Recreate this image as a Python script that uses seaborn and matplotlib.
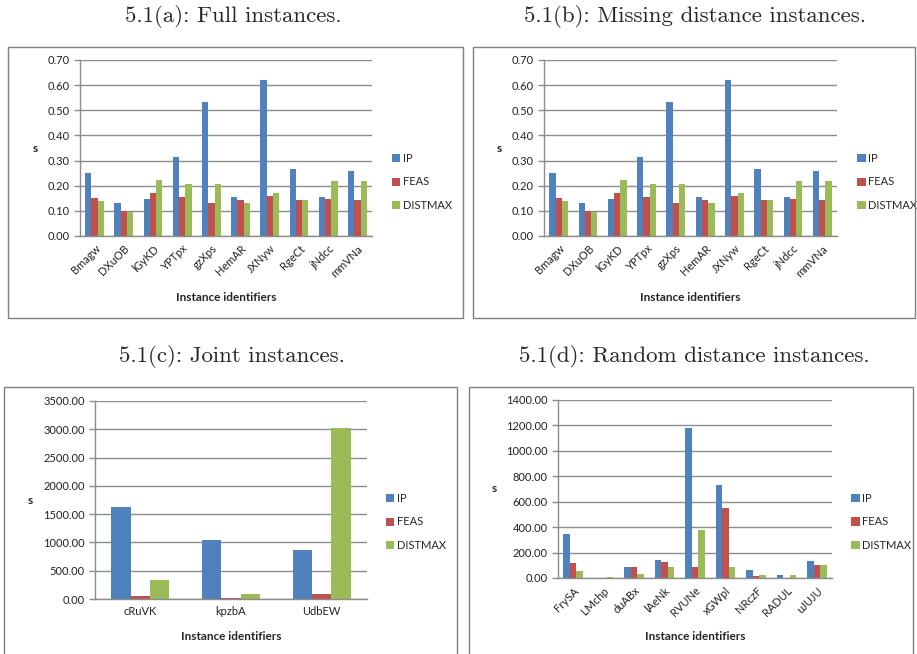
import numpy as np
import pandas as pd
import matplotlib
matplotlib.use('Agg')
from matplotlib import pyplot as plt
from matplotlib.patches import Rectangle
from matplotlib.ticker import FormatStrFormatter
import seaborn as sns

sns.set_style('white')
plt.rcParams['font.family'] = ['Lato', 'DejaVu Sans']

methods = ['IP', 'FEAS', 'DISTMAX']
colors = ['#4F81BD', '#C0504D', '#9BBB59']

# 5.1(a) full instances
full_ids = ['Bmagw', 'DXuOB', 'lGyKD', 'YPTpx', 'gzXps', 'HemAR', 'JXNyw', 'RgeCt', 'jNdcc', 'mmVNa']
full_ip = [0.250, 0.133, 0.148, 0.313, 0.533, 0.155, 0.620, 0.265, 0.155, 0.260]
full_feas = [0.152, 0.100, 0.170, 0.155, 0.133, 0.145, 0.160, 0.145, 0.148, 0.145]
full_dist = [0.140, 0.095, 0.223, 0.205, 0.205, 0.133, 0.170, 0.145, 0.220, 0.220]

# 5.1(b) missing distance instances
miss_ids = ['Bmagw', 'DXuOB', 'lGyKD', 'YPTpx', 'gzXps', 'HemAR', 'JXNyw', 'RgeCt', 'jNdcc', 'mmVNa']
miss_ip = [0.250, 0.133, 0.148, 0.313, 0.533, 0.155, 0.620, 0.265, 0.155, 0.260]
miss_feas = [0.152, 0.100, 0.170, 0.155, 0.133, 0.145, 0.160, 0.145, 0.148, 0.145]
miss_dist = [0.140, 0.095, 0.223, 0.205, 0.205, 0.133, 0.170, 0.145, 0.220, 0.220]

# 5.1(c) joint instances
joint_ids = ['cRuVK', 'kpzbA', 'UdbEW']
joint_ip = [1625, 1045, 865]
joint_feas = [50, 15, 85]
joint_dist = [335, 80, 3020]

# 5.1(d) random distance instances
rand_ids = ['FrySA', 'LMchp', 'duABx', 'lAeNk', 'RVUNe', 'xGWpl', 'NRczF', 'RADUL', 'uJUJU']
rand_ip = [345, 0, 85, 140, 1180, 735, 62, 25, 130]
rand_feas = [115, 0, 85, 122, 90, 550, 18, 0, 100]
rand_dist = [55, 8, 30, 85, 375, 90, 25, 25, 100]

W, H = 917, 654
fig = plt.figure(figsize=(W / 100, H / 100), dpi=100)


def px_axes(x0, y0, x1, y1):
    return fig.add_axes([x0 / W, 1 - y1 / H, (x1 - x0) / W, (y1 - y0) / H])


def panel(ax, ids, ip, feas, dist, ymax, step, rotate, leg_y, xlab_y, ylab_x):
    df = pd.DataFrame({'id': ids * 3,
                       'method': np.repeat(methods, len(ids)),
                       's': ip + feas + dist})
    sns.barplot(data=df, x='id', y='s', hue='method', hue_order=methods,
                palette=colors, width=0.64, gap=0, saturation=1, ax=ax,
                linewidth=0)
    n = len(ids)
    ax.set_xlim(-0.5, n - 0.5)
    ax.set_ylim(0, ymax)
    ax.set_yticks(np.arange(0, ymax + step / 2, step))
    ax.yaxis.set_major_formatter(FormatStrFormatter('%.2f'))
    ax.yaxis.grid(True, color='#8c8c8c', lw=1)
    ax.set_axisbelow(True)
    for s in ['top', 'right']:
        ax.spines[s].set_visible(False)
    for s in ['left', 'bottom']:
        ax.spines[s].set_color('#8c8c8c')
        ax.spines[s].set_linewidth(1)
    ax.set_xticks(range(n))
    ax.set_xticks(np.arange(-0.5, n), minor=True)
    ax.tick_params(axis='x', which='major', length=0, pad=5, labelsize=8, labelcolor='#222222')
    ax.tick_params(axis='x', which='minor', length=4, color='#8c8c8c', width=1)
    ax.tick_params(axis='y', length=4, color='#8c8c8c', width=1, labelsize=8,
                   labelcolor='#222222', left=True)
    if rotate:
        ax.set_xticklabels(ids, rotation=45, ha='right', rotation_mode='anchor')
    else:
        ax.set_xticklabels(ids)
    ax.set_xlabel('Instance identifiers', fontweight='bold', fontsize=8.5)
    ax.xaxis.set_label_coords(0.5, xlab_y)
    ax.xaxis.label.set_va('center')
    ax.set_ylabel('s', fontweight='bold', fontsize=8.5, rotation=0)
    ax.yaxis.set_label_coords(ylab_x, 0.5)
    ax.yaxis.label.set_va('center')
    ax.yaxis.label.set_ha('center')
    handles, labels = ax.get_legend_handles_labels()
    ax.legend(handles, labels, loc='center left', bbox_to_anchor=(1.05, leg_y),
              frameon=False, handlelength=0.75, handleheight=0.75,
              labelspacing=1.15, handletextpad=0.2, fontsize=8, borderpad=0)


ax_a = px_axes(80, 60, 372, 236)
panel(ax_a, full_ids, full_ip, full_feas, full_dist, 0.70, 0.10, True, 0.307, -0.347, -0.154)
ax_b = px_axes(544, 60, 837, 236)
panel(ax_b, miss_ids, miss_ip, miss_feas, miss_dist, 0.70, 0.10, True, 0.307, -0.347, -0.154)
ax_c = px_axes(95, 401, 367, 599)
panel(ax_c, joint_ids, joint_ip, joint_feas, joint_dist, 3500, 500, False, 0.389, -0.187, -0.239)
ax_d = px_axes(558, 400, 832, 578)
panel(ax_d, rand_ids, rand_ip, rand_feas, rand_dist, 1400, 200, True, 0.315, -0.326, -0.234)

# frames around each panel
for x0, y0, x1, y1 in [(8, 47, 463, 318), (473, 47, 915, 318),
                       (4, 387, 457, 660), (469, 387, 913, 660)]:
    fig.add_artist(Rectangle((x0 / W, 1 - y1 / H), (x1 - x0) / W, (y1 - y0) / H,
                             transform=fig.transFigure, fill=False,
                             ec='#7f7f7f', lw=1))

titles = [('5.1(a): Full instances.', 233, 16),
          ('5.1(b): Missing distance instances.', 695, 16),
          ('5.1(c): Joint instances.', 232, 357),
          ('5.1(d): Random distance instances.', 694, 357)]
for t, cx, cy in titles:
    fig.text(cx / W, 1 - cy / H, t, ha='center', va='center',
             family='cmr10', fontsize=16.5)

plt.savefig('out.png', dpi=100)
